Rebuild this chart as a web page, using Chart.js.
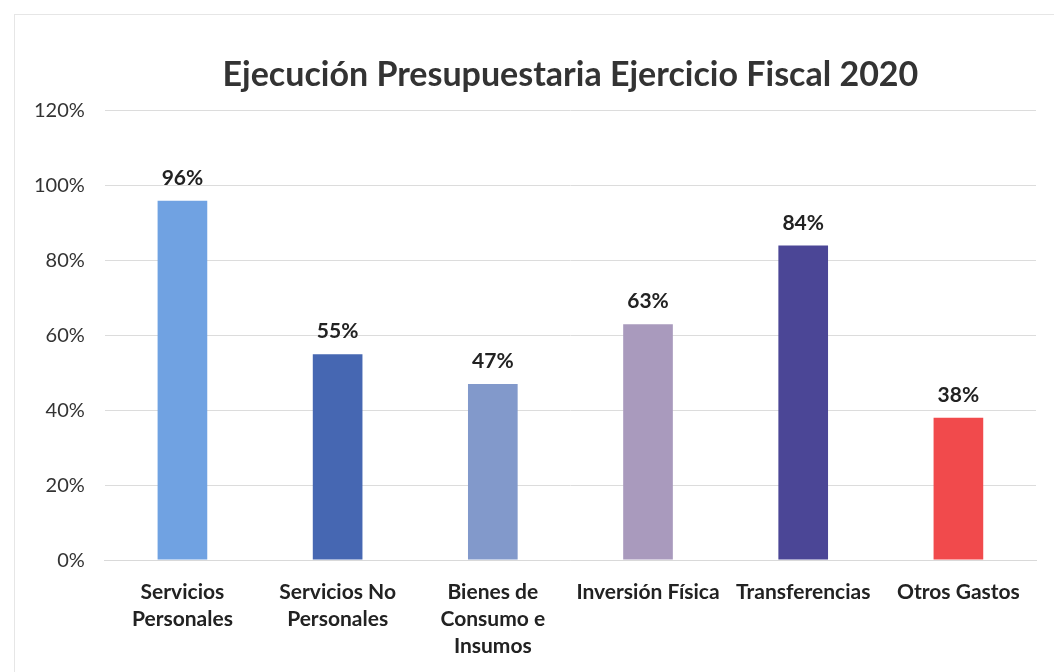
<!DOCTYPE html>
<html>
<head>
<meta charset="utf-8">
<script src="https://cdn.jsdelivr.net/npm/chart.js@4/dist/chart.umd.min.js"></script>
<style>
  html, body { margin: 0; padding: 0; background: #fff; }
  #wrap { position: absolute; left: 14px; top: 14px; width: 1040px; height: 658px; border-left: 1px solid #e6e6e6; border-top: 1px solid #e6e6e6; }
  #box { position: absolute; left: 0; top: 0; width: 1054px; height: 672px; }
</style>
</head>
<body>
<div id="wrap"></div>
<div id="box"><canvas id="myChart"></canvas></div>
<script>
const categories = [
  ['Servicios', 'Personales'],
  ['Servicios No', 'Personales'],
  ['Bienes de', 'Consumo e', 'Insumos'],
  'Inversión Física',
  'Transferencias',
  'Otros Gastos'
];
const values = [0.96, 0.55, 0.47, 0.63, 0.84, 0.38];
const barColors = ['#70a2e2', '#4667b2', '#8299cb', '#a99abd', '#4b4696', '#f14a4c'];
const yTicks = [0, 0.2, 0.4, 0.6, 0.8, 1.0, 1.2];

const fontFam = 'Lato, "Open Sans", sans-serif';

const ctx = document.getElementById('myChart');

// puts the percent over each bar
const barLabels = {
  id: 'barLabels',
  afterDatasetsDraw(chart) {
    const c = chart.ctx;
    const meta = chart.getDatasetMeta(0);
    c.save();
    c.font = 'bold 21px ' + fontFam;
    c.fillStyle = '#222';
    c.textAlign = 'center';
    c.textBaseline = 'bottom';
    meta.data.forEach((bar, i) => {
      c.fillText(Math.round(values[i] * 100) + '%', bar.x, bar.y - 12);
    });
    c.restore();
  }
};

new Chart(ctx, {
  type: 'bar',
  data: {
    labels: categories,
    datasets: [{
      data: values,
      backgroundColor: barColors,
      borderWidth: 0,
      categoryPercentage: 1,
      barPercentage: 0.32
    }]
  },
  options: {
    responsive: true,
    maintainAspectRatio: false,
    animation: false,
    layout: { padding: { left: 14, right: 18, top: 55, bottom: -6 } },
    plugins: {
      legend: { display: false },
      tooltip: { enabled: false },
      title: {
        display: true,
        text: 'Ejecución Presupuestaria Ejercicio Fiscal 2020',
        fullSize: false,
        color: '#333',
        font: { family: fontFam, size: 34, weight: 'bold' },
        padding: { top: 0, bottom: 15 }
      }
    },
    scales: {
      x: {
        grid: { display: false, drawTicks: false },
        border: { color: '#d9d9d9' },
        ticks: {
          color: '#222',
          padding: 18,
          maxRotation: 0,
          autoSkip: false,
          font: { family: fontFam, size: 21, weight: 'bold', lineHeight: 1.3 }
        }
      },
      y: {
        min: 0,
        max: 1.2,
        afterBuildTicks: (axis) => { axis.ticks = yTicks.map(v => ({ value: v })); },
        grid: { color: '#dcdcdc', drawTicks: false },
        border: { display: false },
        ticks: {
          color: '#333',
          padding: 20,
          font: { family: fontFam, size: 20 },
          callback: (v) => Math.round(v * 100) + '%'
        }
      }
    }
  },
  plugins: [barLabels]
});
</script>
</body>
</html>
